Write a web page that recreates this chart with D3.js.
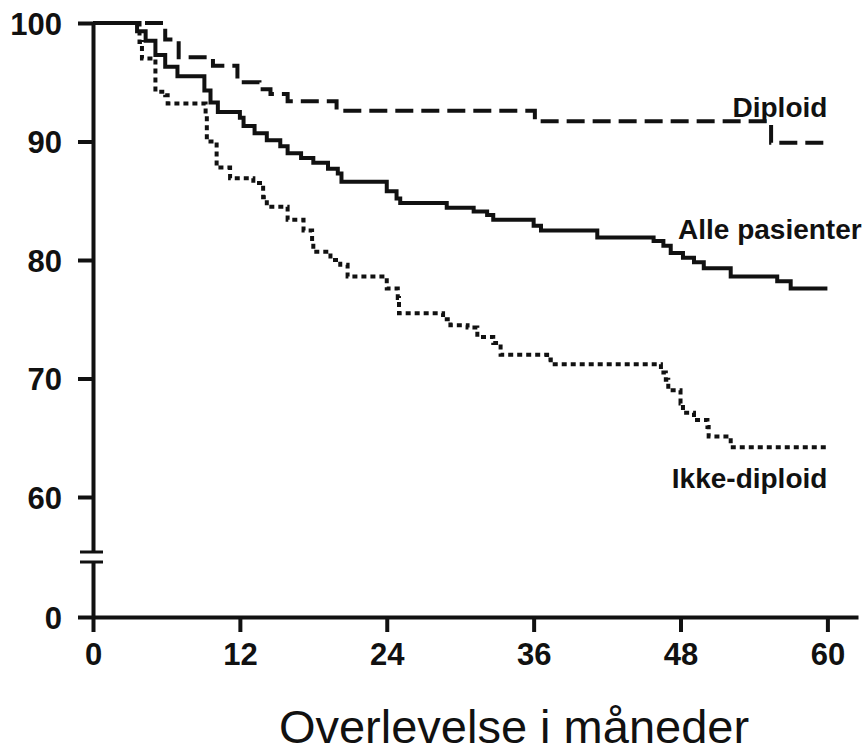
<!DOCTYPE html>
<html>
<head>
<meta charset="utf-8">
<script src="https://cdn.jsdelivr.net/npm/d3@7"></script>
<style>
  html, body { margin: 0; padding: 0; background: #fff; }
  svg { display: block; }
  .axis path, .axis line { stroke: #111; stroke-width: 4; }
  .axis text { font-family: "Liberation Sans", Arial, sans-serif; font-weight: bold; font-size: 31px; fill: #111; }
  .curve { fill: none; stroke: #111; stroke-width: 4; }
  .curve-label { font-family: "Liberation Sans", Arial, sans-serif; font-weight: bold; font-size: 28px; fill: #111; }
  .axis-title { font-family: "Liberation Sans", Arial, sans-serif; font-size: 47px; fill: #111; }
</style>
</head>
<body>
<div id="chart"></div>
<script>
// survival (%) per month
const diploid = [
  [0, 100], [5.9, 98.6], [7.0, 97.1], [9.8, 96.4], [11.8, 95.0], [13.6, 94.4],
  [14.5, 94.0], [15.9, 93.4], [19.9, 92.6], [36.1, 91.7], [55.4, 89.9], [60, 89.9]
];

const allePasienter = [
  [0, 100], [3.6, 99.3], [4.3, 98.5], [5.1, 97.3], [5.9, 96.3], [6.9, 95.5],
  [9.1, 94.3], [9.6, 93.3], [10.2, 92.5], [12.0, 92.0], [12.3, 91.3], [13.2, 90.7],
  [14.2, 90.1], [15.3, 89.6], [15.9, 89.0], [17.0, 88.6], [18.0, 88.2], [19.2, 87.7],
  [20.0, 87.3], [20.3, 86.6], [24.0, 85.8], [24.8, 85.2], [25.1, 84.8], [28.9, 84.4],
  [31.1, 84.1], [32.2, 83.8], [32.7, 83.4], [36.0, 82.9], [36.6, 82.5], [41.2, 81.9],
  [45.8, 81.6], [46.6, 81.2], [47.2, 80.6], [48.2, 80.2], [49.1, 79.8], [49.9, 79.3],
  [52.1, 78.6], [55.9, 78.2], [57.0, 77.6], [60, 77.6]
];

const ikkeDiploid = [
  [0, 100], [3.8, 98.4], [4.0, 97.0], [5.1, 94.2], [5.9, 93.9], [6.1, 93.2],
  [9.2, 92.2], [9.3, 90.0], [10.1, 87.8], [11.2, 86.9], [13.1, 86.5], [13.9, 85.3],
  [14.2, 84.5], [15.9, 83.4], [17.2, 82.5], [17.9, 81.5], [18.0, 80.7], [19.4, 80.0],
  [20.2, 79.6], [20.8, 78.6], [24.0, 77.6], [24.9, 76.8], [25.0, 75.5], [28.6, 75.0],
  [29.2, 74.5], [30.6, 74.3], [31.4, 73.5], [32.7, 73.0], [33.3, 72.0], [37.1, 71.6],
  [37.4, 71.2], [46.4, 70.5], [46.8, 69.9], [47.0, 69.0], [48.0, 67.9], [48.2, 67.1],
  [49.1, 66.5], [50.2, 65.9], [50.3, 65.1], [52.1, 64.2], [60, 64.2]
];

const xTicks = [0, 12, 24, 36, 48, 60];
const yTicks = [0, 60, 70, 80, 90, 100];

const width = 866, height = 754;

const svg = d3.select("#chart").append("svg")
  .attr("width", width)
  .attr("height", height);

svg.append("rect").attr("width", width).attr("height", height).attr("fill", "#fff");

// x runs a little past 60; y axis is broken between 0 and 60
const x = d3.scaleLinear().domain([0, 62.5]).range([93, 858]);
const y = d3.scaleLinear().domain([0, 60, 100]).range([617, 497, 23]);

svg.append("g")
  .attr("class", "axis")
  .attr("transform", `translate(0, ${y(0)})`)
  .call(d3.axisBottom(x).tickValues(xTicks).tickSize(15).tickSizeOuter(0).tickPadding(11));

const yAxis = svg.append("g")
  .attr("class", "axis")
  .attr("transform", `translate(${x(0)}, 0)`)
  .call(d3.axisLeft(y).tickValues(yTicks).tickSize(15).tickSizeOuter(0).tickPadding(16));

yAxis.selectAll("text").attr("dy", "0.36em");

// axis break marks
const breakY = y(30);
svg.append("rect")
  .attr("x", x(0) - 4).attr("y", breakY - 4)
  .attr("width", 8).attr("height", 8)
  .attr("fill", "#fff");
[breakY - 5, breakY + 5].forEach(by => {
  svg.append("line")
    .attr("x1", x(0) - 13).attr("x2", x(0) + 10)
    .attr("y1", by).attr("y2", by)
    .attr("stroke", "#111").attr("stroke-width", 3);
});

const line = d3.line()
  .x(d => x(d[0]))
  .y(d => y(d[1]))
  .curve(d3.curveStepAfter);

svg.append("path").datum(allePasienter)
  .attr("class", "curve")
  .attr("d", line);

svg.append("path").datum(diploid)
  .attr("class", "curve")
  .attr("stroke-dasharray", "18,8")
  .attr("d", line);

svg.append("path").datum(ikkeDiploid)
  .attr("class", "curve")
  .attr("stroke-dasharray", "5,4")
  .attr("d", line);

// labels
svg.append("text").attr("class", "curve-label")
  .attr("x", x(60)).attr("y", 117)
  .attr("text-anchor", "end")
  .text("Diploid");

svg.append("text").attr("class", "curve-label")
  .attr("x", 678).attr("y", 239)
  .text("Alle pasienter");

svg.append("text").attr("class", "curve-label")
  .attr("x", x(60)).attr("y", 488)
  .attr("text-anchor", "end")
  .text("Ikke-diploid");

svg.append("text").attr("class", "axis-title")
  .attr("x", 514).attr("y", 743)
  .attr("text-anchor", "middle")
  .text("Overlevelse i måneder");
</script>
</body>
</html>
